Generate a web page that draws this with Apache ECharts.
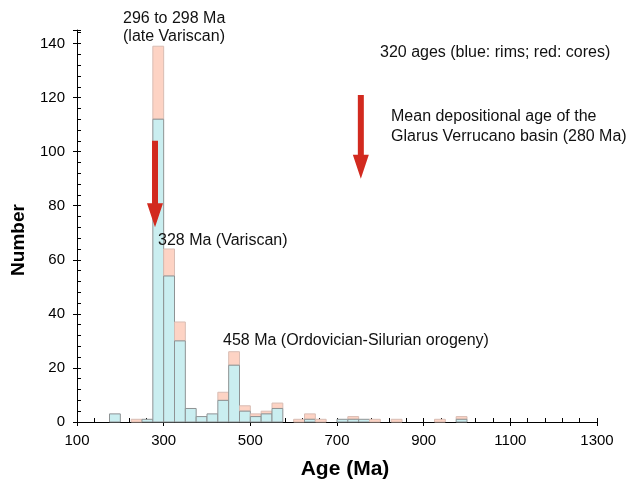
<!DOCTYPE html>
<html>
<head>
<meta charset="utf-8">
<script src="https://cdn.jsdelivr.net/npm/echarts@6/dist/echarts.min.js"></script>
<style>
  html, body { margin: 0; padding: 0; background: #fff; }
  #chart { width: 628px; height: 486px; }
</style>
</head>
<body>
<div id="chart"></div>
<script>
// histogram bins (Ma), 25 Ma wide
const binStart = [175, 225, 250, 275, 300, 325, 350, 375, 400, 425, 450, 475, 500, 525, 550, 600, 625, 650, 700, 725, 750, 775, 825, 925, 975]
const binWidth = 25
// counts per bin: rims (blue, bottom) and cores (red, stacked on top)
const rims  = [3, 0, 1, 112, 54, 30, 5, 2, 3, 8, 21, 4, 2, 3, 5, 0, 1, 0, 1, 1, 1, 0, 0, 0, 1]
const cores = [0, 1, 0, 27, 10, 7, 0, 0, 0, 3, 5, 2, 1, 1, 2, 1, 2, 1, 0, 1, 0, 1, 1, 1, 1]

// red arrows: age, top of shaft, tip (in Number units)
const arrowAge = [280, 755]
const arrowTop = [104, 121]
const arrowTip = [72, 90]

const xMin = 100, xMax = 1300, xStep = 200
const yMax = 145, yStep = 20

const FONT = '"Liberation Sans", Arial, Helvetica, sans-serif'

const binData = binStart.map((s, i) => [s, s + binWidth, rims[i], cores[i]])
const arrowData = arrowAge.map((a, i) => [a, arrowTop[i], arrowTip[i]])

function renderBin (params, api) {
  const x0 = api.value(0)
  const x1 = api.value(1)
  const r = api.value(2)
  const c = api.value(3)
  const children = []
  const pBase = api.coord([x0, 0])
  const pEnd = api.coord([x1, 0])
  const w = pEnd[0] - pBase[0]
  if (c > 0) {
    const pTop = api.coord([x0, r + c])
    const pMid = api.coord([x0, r])
    children.push({
      type: 'rect',
      shape: { x: pBase[0], y: pTop[1], width: w, height: pMid[1] - pTop[1] },
      style: { fill: '#fdd3c4', stroke: '#d9bdb4', lineWidth: 1 }
    })
  }
  if (r > 0) {
    const pMid = api.coord([x0, r])
    children.push({
      type: 'rect',
      shape: { x: pBase[0], y: pMid[1], width: w, height: pBase[1] - pMid[1] },
      style: { fill: '#caeef0', stroke: '#8e9394', lineWidth: 1 }
    })
  }
  return { type: 'group', children }
}

function renderArrow (params, api) {
  const top = api.coord([api.value(0), api.value(1)])
  const tip = api.coord([api.value(0), api.value(2)])
  const cx = top[0]
  const head = 24, hw = 8, sw = 3
  const hy = tip[1] - head
  return {
    type: 'polygon',
    shape: {
      points: [
        [cx - sw, top[1]], [cx + sw, top[1]], [cx + sw, hy], [cx + hw, hy],
        [cx, tip[1]], [cx - hw, hy], [cx - sw, hy]
      ]
    },
    style: { fill: '#d22a1f' }
  }
}

function txt (text, x, y, lh) {
  return {
    type: 'text',
    x, y,
    z: 100,
    style: {
      text, fill: '#111', font: '16px ' + FONT,
      textVerticalAlign: 'top', lineHeight: lh || 18
    }
  }
}

const chart = echarts.init(document.getElementById('chart'))
chart.setOption({
  animation: false,
  grid: { left: 77, right: 31, top: 30, bottom: 64 },
  xAxis: [
    {
      type: 'value', min: xMin, max: xMax, interval: xStep,
      axisLine: { lineStyle: { color: '#000', width: 1 } },
      axisTick: { inside: true, length: 4, lineStyle: { color: '#000' } },
      minorTick: { show: true, splitNumber: 5, length: 4, lineStyle: { color: '#000' } },
      axisLabel: { color: '#000', fontSize: 15, fontFamily: FONT, margin: 11, formatter: v => String(v) },
      splitLine: { show: false }
    },
    {
      type: 'value', min: xMin, max: xMax, interval: xStep, position: 'bottom',
      axisLine: { show: false },
      axisTick: { inside: false, length: 4, lineStyle: { color: '#000' } },
      axisLabel: { show: false },
      splitLine: { show: false }
    }
  ],
  yAxis: [
    {
      type: 'value', min: 0, max: yMax, interval: 4,
      axisLine: { show: true, lineStyle: { color: '#000', width: 1 } },
      axisTick: { show: true, inside: true, length: 4, lineStyle: { color: '#000' } },
      axisLabel: {
        color: '#000', fontSize: 15, fontFamily: FONT, margin: 12,
        formatter: v => (v % yStep === 0 ? String(v) : '')
      },
      splitLine: { show: false }
    },
    {
      type: 'value', min: 0, max: yMax, interval: yStep, position: 'left',
      axisLine: { show: false },
      axisTick: { show: true, inside: false, length: 4, lineStyle: { color: '#000' } },
      axisLabel: { show: false },
      splitLine: { show: false }
    }
  ],
  series: [
    {
      type: 'custom', name: 'ages', xAxisIndex: 0, yAxisIndex: 0,
      renderItem: renderBin, data: binData,
      encode: { x: [0, 1], y: [2, 3] }, z: 2
    },
    {
      type: 'custom', name: 'arrows', xAxisIndex: 0, yAxisIndex: 0,
      renderItem: renderArrow, data: arrowData,
      encode: { x: 0, y: [1, 2] }, z: 5
    }
  ],
  graphic: [
    txt('296 to 298 Ma\n(late Variscan)', 123, 10, 18),
    txt('328 Ma (Variscan)', 158, 232),
    txt('458 Ma (Ordovician-Silurian orogeny)', 223, 332),
    txt('320 ages (blue: rims; red: cores)', 380, 44),
    txt('Mean depositional age of the\nGlarus Verrucano basin (280 Ma)', 391, 107, 20),
    {
      type: 'text', x: 345, y: 469, z: 100,
      style: {
        text: 'Age (Ma)', fill: '#000', font: 'bold 21px ' + FONT,
        textAlign: 'center', textVerticalAlign: 'middle'
      }
    },
    {
      type: 'text', x: 19, y: 240, rotation: Math.PI / 2, z: 100,
      style: {
        text: 'Number', fill: '#000', font: 'bold 19px ' + FONT,
        textAlign: 'center', textVerticalAlign: 'middle'
      }
    }
  ]
})
</script>
</body>
</html>
